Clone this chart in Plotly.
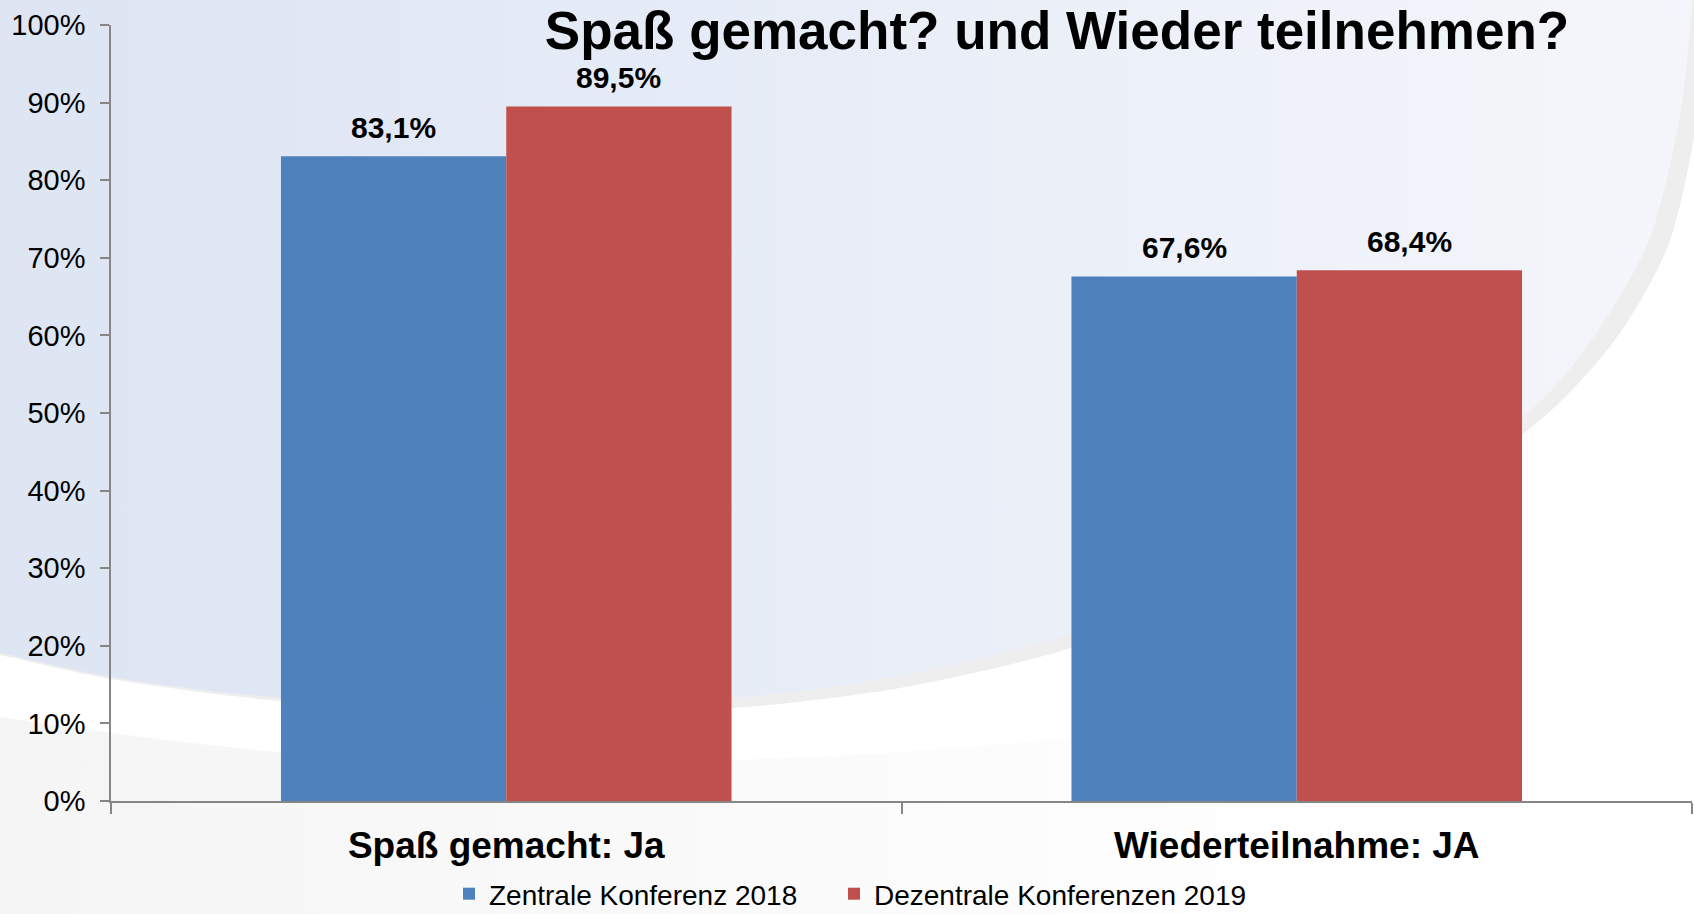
import plotly.graph_objects as go

# ---------------- data ----------------
categories = ["Spaß gemacht: Ja", "Wiederteilnahme: JA"]
series_names = ["Zentrale Konferenz 2018", "Dezentrale Konferenzen 2019"]
values_2018 = [83.1, 67.6]
values_2019 = [89.5, 68.4]
y_tick_values = [0, 10, 20, 30, 40, 50, 60, 70, 80, 90, 100]
y_tick_labels = ["0%", "10%", "20%", "30%", "40%", "50%", "60%", "70%", "80%", "90%", "100%"]
title_text = "Spaß gemacht? und Wieder teilnehmen?"

# ---------------- styling / layout ----------------
W, H = 1694, 914
FONT = "Liberation Sans, Arial, sans-serif"
colors = ["#4f81bd", "#c0504d"]
plot_left, plot_right = 111, 1692
plot_top, plot_bottom = 25, 801
bargap = 0.43
legend_left_px = [449, 834]
legend_center_y_px = 894

fig = go.Figure()

# ---- decorative slide background (full-figure pixel subplot) ----
lower_curve = [(-400, 640), (-200, 680), (0, 717), (111, 733), (280, 752), (500, 762), (732, 760),
               (900, 752), (1071, 738), (1300, 712), (1500, 680), (1700, 640), (1900, 590)]
bx = [p[0] for p in lower_curve] + [1900, 1900, -400, -400]
by = [p[1] for p in lower_curve] + [700, 1200, 1200, 700]
fig.add_trace(go.Scatter(x=bx, y=by, fill="toself", mode="lines", line=dict(width=0, shape="spline", smoothing=0.8),
                         fillgradient=dict(type="horizontal",
                                           colorscale=[[0, "#f3f3f3"], [0.25, "#f6f6f6"], [0.55, "#fbfbfb"],
                                                       [0.75, "#ffffff"], [1, "#ffffff"]]),
                         hoverinfo="skip", showlegend=False, xaxis="x", yaxis="y"))

rim = [(-300, 584), (-200, 610), (-100, 634), (0, 655), (111, 679), (280, 701), (500, 712),
       (732, 708), (900, 688), (1071, 648), (1300, 558), (1533, 426), (1615, 340), (1668, 246),
       (1697, 120), (1706, 30), (1712, -60), (1720, -200)]
rx = [p[0] for p in rim] + [1720, -300]
ry = [p[1] for p in rim] + [-400, -400]
fig.add_trace(go.Scatter(x=rx, y=ry, fill="toself", mode="lines", line=dict(width=0, shape="spline", smoothing=0.8),
                         fillcolor="#eeeeee", hoverinfo="skip", showlegend=False, xaxis="x", yaxis="y"))

ell = [(-300, 582), (-200, 608), (-100, 632), (0, 653), (111, 677), (280, 698), (500, 706),
       (732, 698), (900, 676), (1071, 634), (1300, 542), (1533, 408), (1600, 328), (1650, 238),
       (1680, 115), (1690, 30), (1695, -60), (1700, -200)]
ex = [p[0] for p in ell] + [1700, -300]
ey = [p[1] for p in ell] + [-400, -400]
fig.add_trace(go.Scatter(x=ex, y=ey, fill="toself", mode="lines", line=dict(width=0, shape="spline", smoothing=0.8),
                         fillgradient=dict(type="horizontal",
                                           colorscale=[[0, "#dde4f2"], [0.2, "#dee5f3"], [0.5, "#e6ecf7"],
                                                       [1, "#f5f6fb"]]),
                         hoverinfo="skip", showlegend=False, xaxis="x", yaxis="y"))

# ---- bars ----
legend_ids = ["legend", "legend2"]
for name, vals, col, lg in zip(series_names, [values_2018, values_2019], colors, legend_ids):
    fig.add_trace(go.Bar(x=categories, y=vals, name=name, marker=dict(color=col, line=dict(width=0)),
                         xaxis="x2", yaxis="y2", legend=lg))

# ---- data labels ----
cat_w = (plot_right - plot_left) / len(categories)
bar_w = cat_w * (1 - bargap) / 2
annotations = []
for i, vals in enumerate([values_2018, values_2019]):
    for c, v in zip(categories, vals):
        annotations.append(dict(
            x=c, y=v, xref="x2", yref="y2", xshift=(i - 0.5) * bar_w, yshift=10,
            yanchor="bottom", showarrow=False,
            text=f"{v:.1f}%".replace(".", ","),
            font=dict(family=FONT, size=30, color="#000000", weight="bold")))

legend_style = dict(orientation="h", xref="container", yref="container", xanchor="left",
                    y=1 - legend_center_y_px / H, yanchor="middle",
                    bgcolor="rgba(0,0,0,0)", font=dict(family=FONT, size=28, color="#000000"),
                    itemwidth=30)

fig.update_layout(
    width=W, height=H,
    margin=dict(l=0, r=0, t=0, b=0, autoexpand=False),
    paper_bgcolor="#ffffff",
    plot_bgcolor="rgba(0,0,0,0)",
    barmode="group", bargap=bargap, bargroupgap=0,
    separators=",.",
    font=dict(family=FONT, color="#000000"),
    title=dict(text=title_text, x=1057 / W, xanchor="center", y=1 - 30 / H, yanchor="middle",
               font=dict(family=FONT, size=53, color="#000000", weight="bold")),
    xaxis=dict(domain=[0, 1], range=[0, W], visible=False, fixedrange=True),
    yaxis=dict(domain=[0, 1], range=[H, 0], visible=False, fixedrange=True),
    xaxis2=dict(domain=[plot_left / W, plot_right / W], anchor="y2",
                showline=True, linecolor="#868686", linewidth=1.5,
                ticks="outside", tickson="boundaries", ticklen=11, tickcolor="#868686", tickwidth=1.5,
                tickfont=dict(family=FONT, size=37, color="#000000", weight="bold"),
                ticklabelstandoff=11, showgrid=False, zeroline=False, automargin=False),
    yaxis2=dict(domain=[1 - plot_bottom / H, 1 - plot_top / H], anchor="x2", range=[0, 100],
                tickvals=y_tick_values, ticktext=y_tick_labels,
                showline=True, linecolor="#868686", linewidth=1.5,
                ticks="outside", ticklen=9, tickcolor="#868686", tickwidth=1.5,
                tickfont=dict(family=FONT, size=29, color="#000000"),
                ticklabelstandoff=9, showgrid=False, zeroline=False, automargin=False),
    legend=dict(x=legend_left_px[0] / W, **legend_style),
    legend2=dict(x=legend_left_px[1] / W, **legend_style),
    annotations=annotations,
    showlegend=True,
)

fig.write_html("out.html", config={"displayModeBar": False},
               post_script="document.body.style.margin='0';document.body.style.overflow='hidden';")
